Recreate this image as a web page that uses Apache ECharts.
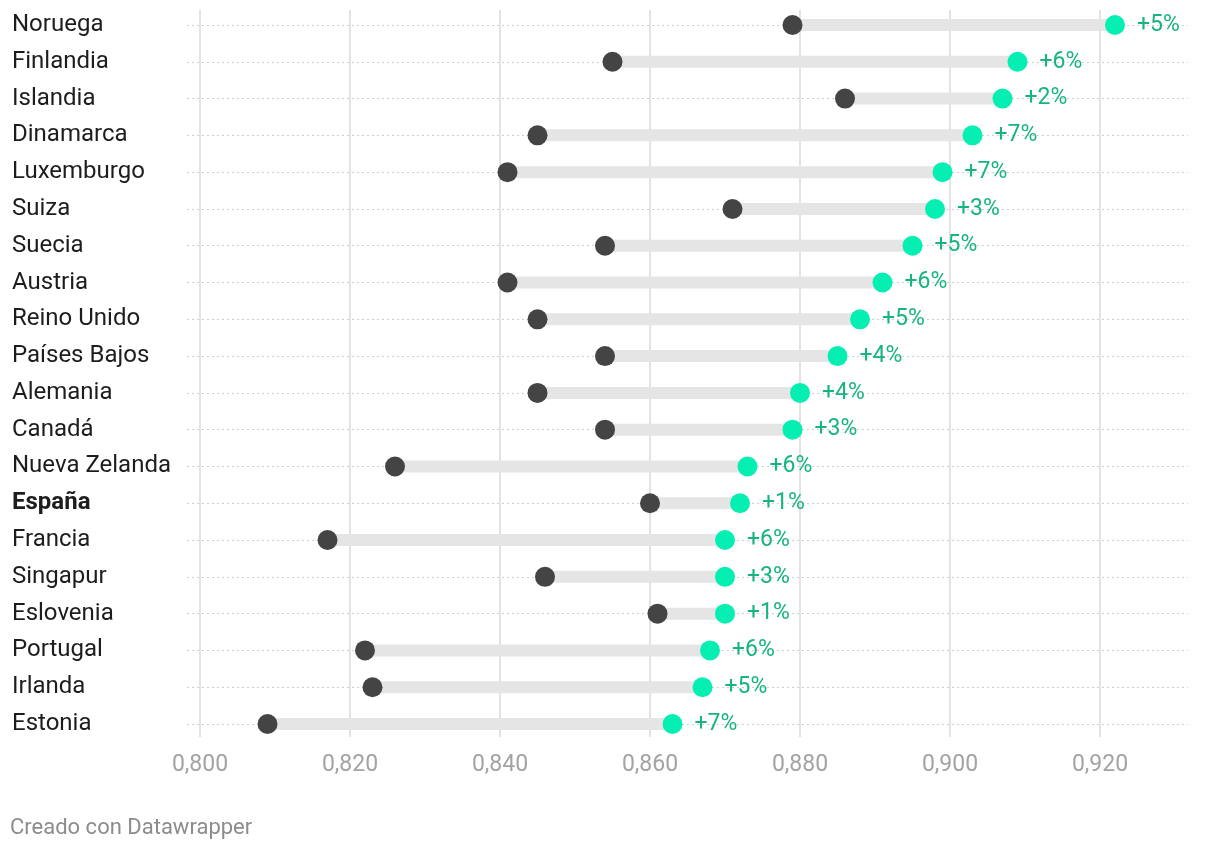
<!DOCTYPE html>
<html><head><meta charset="utf-8">
<script src="https://cdn.jsdelivr.net/npm/echarts@6/dist/echarts.min.js"></script>
<style>html,body{margin:0;padding:0;background:#fff}#c{width:1220px;height:850px}</style>
</head><body><div id="c"></div>
<script>
const countries = ["Noruega","Finlandia","Islandia","Dinamarca","Luxemburgo","Suiza","Suecia","Austria","Reino Unido","Países Bajos","Alemania","Canadá","Nueva Zelanda","España","Francia","Singapur","Eslovenia","Portugal","Irlanda","Estonia"];
const before = [0.879,0.855,0.886,0.845,0.841,0.871,0.854,0.841,0.845,0.854,0.845,0.854,0.826,0.860,0.817,0.846,0.861,0.822,0.823,0.809];
const after  = [0.922,0.909,0.907,0.903,0.899,0.898,0.895,0.891,0.888,0.885,0.880,0.879,0.873,0.872,0.870,0.870,0.870,0.868,0.867,0.863];
const changes = ["+5%","+6%","+2%","+7%","+7%","+3%","+5%","+6%","+5%","+4%","+4%","+3%","+6%","+1%","+6%","+3%","+1%","+6%","+5%","+7%"];
const xTicks = [0.80,0.82,0.84,0.86,0.88,0.90,0.92];

const FONT = 'Roboto';
const chart = echarts.init(document.getElementById('c'));
chart.setOption({
  animation:false,
  textStyle:{fontFamily:FONT},
  grid:[
    {left:187,right:32,top:25,bottom:126},
    {left:200,right:30,top:10,bottom:113},
    {left:200,right:30,top:25,bottom:126}
  ],
  xAxis:[
    {gridIndex:0,type:'value',show:false,min:0,max:1},
    {gridIndex:1,type:'value',min:xTicks[0],max:0.932,interval:0.02,
      axisLine:{show:false},axisTick:{show:false},
      splitLine:{show:true,showMaxLine:false,lineStyle:{color:'#e3e3e3',width:2}},
      axisLabel:{color:'#a3a3a3',fontSize:23,margin:17,fontFamily:FONT,
        formatter:v=>xTicks.some(t=>Math.abs(t-v)<1e-9)?v.toFixed(3).replace('.',','):''}},
    {gridIndex:2,type:'value',min:xTicks[0],max:0.932,show:false}
  ],
  yAxis:[
    {gridIndex:0,type:'category',data:countries,inverse:true,boundaryGap:false,
      axisLine:{show:false},axisTick:{show:false},axisLabel:{show:false},
      splitLine:{show:true,lineStyle:{color:'#cfcfcf',type:[2,3],width:1}}},
    {gridIndex:1,type:'value',show:false},
    {gridIndex:2,type:'category',data:countries,inverse:true,boundaryGap:false,
      axisLine:{show:false},axisTick:{show:false},splitLine:{show:false},
      axisLabel:{align:'left',margin:188,fontSize:24,color:'#1d1d1d',fontFamily:FONT,
        formatter:v=>v==='España'?'{b|'+v+'}':v,
        rich:{b:{fontWeight:'bold',fontSize:24,color:'#1d1d1d',fontFamily:FONT}}}}
  ],
  series:[
    {type:'custom',xAxisIndex:2,yAxisIndex:2,z:2,
      data:countries.map((c,i)=>[before[i],after[i],i]),
      encode:{x:[0,1],y:2},
      renderItem:function(params,api){
        const a=api.coord([api.value(0),api.value(2)]);
        const b=api.coord([api.value(1),api.value(2)]);
        return {type:'rect',shape:{x:a[0],y:a[1]-6,width:b[0]-a[0],height:12},style:{fill:'#e5e5e5'}};
      }},
    {type:'scatter',xAxisIndex:2,yAxisIndex:2,z:3,symbolSize:20,
      itemStyle:{color:'#444444',opacity:1},
      data:countries.map((c,i)=>[before[i],i])},
    {type:'scatter',xAxisIndex:2,yAxisIndex:2,z:4,symbolSize:20,
      itemStyle:{color:'#06efb3',opacity:1},
      label:{show:true,position:'right',distance:12,fontSize:23,color:'#16b47f',fontFamily:FONT,
        formatter:p=>changes[p.dataIndex]},
      data:countries.map((c,i)=>[after[i],i])}
  ],
  graphic:[{type:'text',left:10,top:817,style:{text:'Creado con Datawrapper',fontSize:22,fill:'#8c8c8c',fontFamily:FONT}}]
});
</script></body></html>
